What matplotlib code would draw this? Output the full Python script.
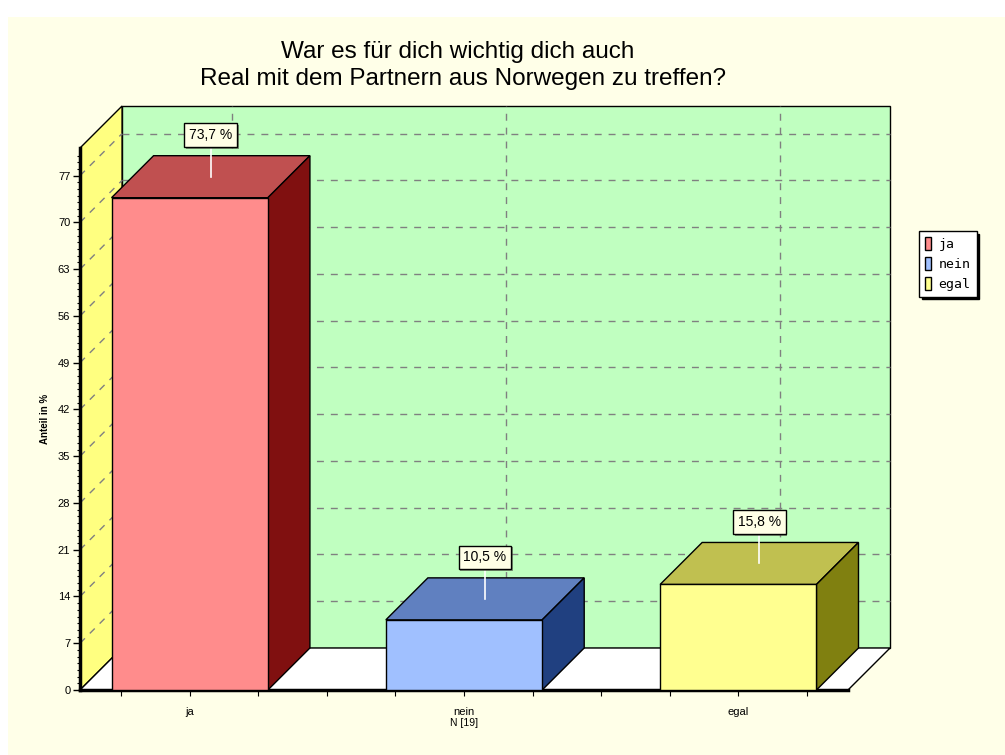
#3D-look bar chart: Treffen mit Partnern aus Norwegen
import matplotlib
matplotlib.use('Agg')
import matplotlib.pyplot as plt
from matplotlib.patches import Polygon, Rectangle, Patch
from matplotlib.patheffects import withSimplePatchShadow

categories = ['ja', 'nein', 'egal']
values = [73.7, 10.5, 15.8]
front_colors = ['#FF8C8C', '#A0C0FF', '#FFFF90']
top_colors = ['#C05050', '#6080C0', '#C0C050']
side_colors = ['#801010', '#204080', '#808010']
yticks = list(range(0, 78, 7))
n_label = 'N [19]'

plt.rcParams['font.family'] = ['Liberation Sans', 'DejaVu Sans']

cream = '#FFFFE8'
fig = plt.figure(figsize=(10.05, 7.55), dpi=100)
fig.patch.set_facecolor('white')
fig.add_artist(Rectangle((8 / 1005, 0), 1, 1 - 17 / 755, transform=fig.transFigure,
                         fc=cream, ec='none', zorder=-10))

ax = fig.add_axes([80 / 1005, 65 / 755, 768 / 1005, 542 / 755])
ax.patch.set_visible(False)
x0, x1 = -0.4, 2.4
ymax = 81.14
ax.set_xlim(x0, x1)
ax.set_ylim(0, ymax)

# depth offset of the pseudo 3d box (in data units)
dx = 42 / 274
dy = 42 / 6.68

def poly(pts, fc, z, lw=1.0):
    p = Polygon(pts, closed=True, fc=fc, ec='black', lw=lw, zorder=z, clip_on=False)
    ax.add_patch(p)

# walls and floor
poly([(x0 + dx, dy), (x1 + dx, dy), (x1 + dx, ymax + dy), (x0 + dx, ymax + dy)], '#C0FFC0', 0.5)
poly([(x0, 0), (x0, ymax), (x0 + dx, ymax + dy), (x0 + dx, dy)], '#FFFF80', 0.5)

grid_kw = dict(color='#808080', lw=1, ls=(0, (5, 5)), zorder=0.6, clip_on=False)
for v in yticks[1:]:
    ax.plot([x0 + dx, x1 + dx], [v + dy, v + dy], **grid_kw)
    ax.plot([x0, x0 + dx], [v, v + dy], **grid_kw)
for i in range(len(categories)):
    ax.plot([i + dx, i + dx], [dy, ymax + dy], **grid_kw)

poly([(x0, 0), (x1, 0), (x1 + dx, dy), (x0 + dx, dy)], 'white', 0.7)

# bars
w = 0.57
xs = list(range(len(categories)))
ax.bar(xs, values, width=w, color=front_colors, edgecolor='black', lw=1, zorder=3)
for i, v in enumerate(values):
    xl, xr = i - w / 2, i + w / 2
    poly([(xl, v), (xr, v), (xr + dx, v + dy), (xl + dx, v + dy)], top_colors[i], 2.5)
    poly([(xr, 0), (xr, v), (xr + dx, v + dy), (xr + dx, dy)], side_colors[i], 2.5)
    cx, cy = i + dx / 2, v + dy / 2
    ax.plot([cx, cx], [cy, cy + 4.5], color='white', lw=1.2, zorder=5, clip_on=False)
    t = ax.text(cx, cy + 6.2, ('%.1f %%' % v).replace('.', ','), ha='center', va='center',
                fontsize=10, zorder=6, clip_on=False,
                bbox=dict(boxstyle='square,pad=0.35', fc='#FFFFE6', ec='black', lw=1))
    t.get_bbox_patch().set_path_effects([withSimplePatchShadow(offset=(1.2, -1.2), alpha=0.6)])

# axes
for s in ['top', 'right']:
    ax.spines[s].set_visible(False)
for s in ['left', 'bottom']:
    ax.spines[s].set_linewidth(2.5)
    ax.spines[s].set_zorder(2.8)
ax.set_yticks(yticks)
ax.set_yticks(range(0, 81), minor=True)
ax.tick_params(axis='y', which='major', length=5, width=1, labelsize=8, pad=2)
ax.tick_params(axis='y', which='minor', length=2, width=0.8)
ax.set_xticks(xs, categories)
ax.set_xticks([-0.25, 0.25, 0.5, 0.75, 1.25, 1.5, 1.75, 2.25], minor=True)
ax.tick_params(axis='x', which='both', length=4, width=0.8, labelsize=8, pad=8)
ax.set_xlabel(n_label, fontsize=7.5, labelpad=1)
ax.set_ylabel('Anteil in %', fontsize=7, fontweight='bold')
ax.yaxis.set_label_coords(-0.039, 0.5)

# title
fig.text(458 / 1005, 1 - 52 / 755, 'War es für dich wichtig dich auch',
         ha='center', va='center', fontsize=17.5)
fig.text(463 / 1005, 1 - 79 / 755, 'Real mit dem Partnern aus Norwegen zu treffen?',
         ha='center', va='center', fontsize=17.5)

# legend
handles = [Patch(facecolor=c, edgecolor='black') for c in front_colors]
leg = ax.legend(handles, categories, loc='center', bbox_to_anchor=(948 / 1005, 1 - 264 / 755),
                bbox_transform=fig.transFigure, fancybox=False, edgecolor='black',
                facecolor='white', framealpha=1, shadow={'color': 'black', 'alpha': 1},
                handlelength=0.4, handleheight=1.1, handletextpad=0.6, borderpad=0.45,
                labelspacing=0.45, prop=dict(family='DejaVu Sans Mono', size=9.5))
leg.get_frame().set_linewidth(1)

plt.savefig('out.png', dpi=100)
